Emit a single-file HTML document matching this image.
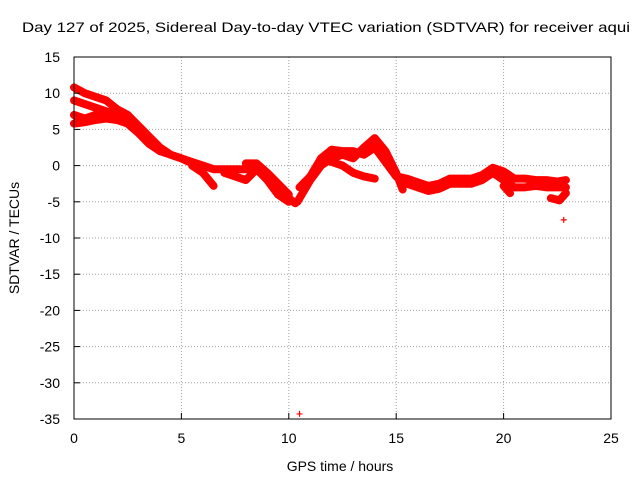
<!DOCTYPE html>
<html><head><meta charset="utf-8"><style>
body{margin:0;background:#fff}
svg{display:block;font-family:"Liberation Sans",sans-serif}
</style></head><body>
<svg id="chart" width="640" height="480" viewBox="0 0 640 480">
<rect width="640" height="480" fill="#fff"/>
<text x="22" y="32" font-size="14" textLength="608" lengthAdjust="spacingAndGlyphs">Day 127 of 2025, Sidereal Day-to-day VTEC variation (SDTVAR) for receiver aqui</text>
<g id="grid"></g>
<g id="series"></g>
<rect x="74" y="57" width="537" height="362" fill="none" stroke="#000" stroke-width="1"/>
<g id="ticks"></g>
<text x="340" y="471" font-size="14" text-anchor="middle">GPS time / hours</text>
<text transform="translate(19,238) rotate(-90)" font-size="14" text-anchor="middle">SDTVAR / TECUs</text>
</svg>
<script>
const xTicks=[0,5,10,15,20,25];
const yTicks=[15,10,5,0,-5,-10,-15,-20,-25,-30,-35];
const trackA=[[0,10.8],[0.5,10],[1,9.5],[1.5,9],[2,7.8],[2.5,7],[3,5.5],[3.5,4],[4,2.5],[4.5,1.5],[5,1],[5.5,0.5],[6,0],[6.5,-0.5],[7,-0.5],[7.5,-0.5],[8,-0.5],[8.5,0],[9,-1.5],[9.5,-3],[10,-4.5],[10.3,-5.2]];
const trackB=[[0,7],[0.5,6.5],[1,7],[1.5,7],[2,7],[2.5,6.5],[3,5],[3.5,3.5],[4,2],[4.5,1.5],[5,1],[5.5,0.3]];
const trackC=[[0,5.8],[0.5,6],[1,6.3],[1.5,6.5],[2,6.3],[2.5,5.8],[3,4.5],[3.5,3],[4,2]];
const trackD=[[0,9],[0.5,8.5],[1,8],[1.5,7.5],[2,7]];
const branch1=[[5.5,0],[6,-1],[6.5,-2.8]];
const branch2=[[7,-1],[7.5,-1.5],[8,-2],[8.5,-0.5],[9,-2],[9.5,-4],[10,-5]];
const branch3=[[8,0.3],[8.5,0.3],[9,-1],[9.5,-2.5],[10,-4]];
const trackE=[[10.4,-5],[10.7,-3.5],[11,-2],[11.5,0],[12,1],[12.5,1.5],[13,1],[13.5,2.5],[14,3.8],[14.5,2],[15,-1],[15.3,-3.3]];
const trackF=[[10.5,-3],[11,-1.5],[11.5,1],[12,2.2],[12.5,2],[13,2],[13.5,1.5],[14,2.5],[14.5,0.5],[15,-1.5]];
const trackG=[[11.5,1],[12,0.5],[12.5,0],[13,-1],[13.5,-1.5],[14,-1.8]];
const trackH=[[15,-1.5],[15.5,-1.8],[16,-2.3],[16.5,-2.8],[17,-2.5],[17.5,-1.8],[18,-1.8],[18.5,-1.8],[19,-1.3],[19.5,-0.3],[20,-0.8],[20.5,-1.8],[21,-1.8],[21.5,-2],[22,-2],[22.5,-2.2],[22.9,-2]];
const trackI=[[15.5,-2.5],[16,-3],[16.5,-3.5],[17,-3.2],[17.5,-2.5],[18,-2.5],[18.5,-2.5],[19,-2],[19.5,-1],[20,-2],[20.5,-3],[21,-3],[21.5,-2.8],[22,-3],[22.5,-3],[22.9,-3]];
const branch4=[[20,-2.8],[20.3,-3.8]];
const branch5=[[22.2,-4.5],[22.6,-4.8],[22.9,-3.8]];
const outliers=[[22.8,-7.5],[10.5,-34.3]];
const tracks=[trackA,trackB,trackC,trackD,branch1,branch2,branch3,trackE,trackF,trackG,trackH,trackI,branch4,branch5];
const X0=74,X1=611,Y0=57,Y1=419;
const sx=v=>X0+(v-0)/25*(X1-X0);
const sy=v=>Y0+(15-v)/50*(Y1-Y0);
const NS='http://www.w3.org/2000/svg';
const grid=document.getElementById('grid'),ticks=document.getElementById('ticks'),ser=document.getElementById('series');
function mk(tag,attrs,parent){const e=document.createElementNS(NS,tag);for(const k in attrs)e.setAttribute(k,attrs[k]);parent.appendChild(e);return e;}
xTicks.forEach(t=>{
  const x=sx(t);
  if(t>0&&t<25){const g=mk('line',{x1:x,x2:x,y1:Y0,y2:Y1,stroke:'#a0a0a0','stroke-dasharray':'1,2'},grid);
  
  }
  const tk=mk('line',{x1:x,x2:x,y1:Y1,y2:Y1-6,stroke:'#000'},ticks);
  
  
  const l=mk('text',{x:x,y:443,'font-size':14,'text-anchor':'middle'},ticks);l.textContent=t;
  
  
});
yTicks.forEach(t=>{
  const y=sy(t);
  if(t<15&&t>-35){const g=mk('line',{x1:X0,x2:X1,y1:y,y2:y,stroke:'#a0a0a0','stroke-dasharray':'1,2'},grid);
  
  }
  const tk=mk('line',{x1:X0,x2:X0+6,y1:y,y2:y,stroke:'#000'},ticks);
  
  
  const l=mk('text',{x:60,y:y+5,'font-size':14,'text-anchor':'end'},ticks);l.textContent=t;
  
  
});
tracks.forEach(tr=>{
  const p=mk('polyline',{points:tr.map(d=>sx(d[0])+','+sy(d[1])).join(' '),fill:'none',stroke:'#ff0000','stroke-width':8,'stroke-linejoin':'round','stroke-linecap':'round'},ser);
  
  
});
outliers.forEach(d=>{
  const x=sx(d[0]),y=sy(d[1]);
  const p=mk('path',{d:`M${x-3},${y}H${x+3}M${x},${y-3}V${y+3}`,stroke:'#ff0000','stroke-width':1.2},ser);
  
  
});
</script>
</body></html>
